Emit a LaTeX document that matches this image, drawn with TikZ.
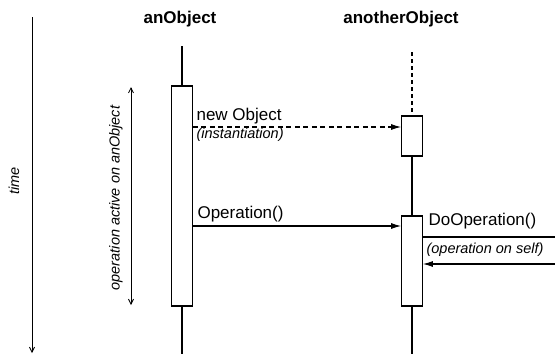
\documentclass[tikz,border=0pt]{standalone}
\usepackage{fontspec}
\setmainfont{Liberation Sans}
\usetikzlibrary{arrows.meta}
\begin{document}
\begin{tikzpicture}[x=1pt,y=-1pt,
  line width=1.1pt,
  act/.style={draw,fill=white,minimum width=20.5pt,inner sep=0pt,line width=1.3pt},
  title/.style={font=\bfseries\fontsize{17}{20}\selectfont,anchor=base,inner sep=0pt},
  msg/.style={font=\fontsize{17}{20}\selectfont,anchor=base west,inner sep=0pt},
  note/.style={font=\itshape\fontsize{14.5}{17}\selectfont,anchor=base west,inner sep=0pt},
  side/.style={rotate=90,font=\itshape\fontsize{14.5}{17}\selectfont,inner sep=0pt},
  tip/.style={-{Latex[length=10pt,width=6pt]}},
  barb/.tip={Straight Barb[length=5pt,width=5pt]}
]
\useasboundingbox (0,0) rectangle (555,357);
% time axis
\coordinate (t1) at (32,17);
\coordinate (t2) at (32,353);
\draw[-{barb},line width=0.8pt] (t1) -- (t2);
\node[side] (time) at (14,181) {time};
% active arrow
\coordinate (a1) at (131,305);
\coordinate (a2) at (131,87);
\draw[{barb}-{barb},line width=0.8pt] (a1) -- (a2);
\node[side] (actlbl) at (116,198) {operation active on anObject};
% titles
\node[title] (o1) at (180,23) {anObject};
\node[title] (o2) at (401,23) {anotherObject};
% anObject lifeline
\coordinate (l1top) at (182,46);
\coordinate (l1bot) at (182,354);
\draw (l1top) -- (l1bot);
\node[act,minimum height=220pt] (b1) at (182,196) {};
% anotherObject lifeline
\coordinate (l2top) at (412,52);
\coordinate (l2bot) at (412,354);
\node[act,minimum height=40pt] (b2) at (412,136) {};
\node[act,minimum height=90pt] (b3) at (412,261) {};
\draw[dash pattern=on 4pt off 3pt] (l2top) -- (b2.north);
\draw (b2.south) -- (b3.north);
\draw (b3.south) -- (l2bot);
% new Object
\draw[tip,dash pattern=on 5pt off 3.5pt] (b1.east |- 0,127) -- (b2.west |- 0,127);
\node[msg] (m1) at (196,120) {new Object};
\node[note] (m1n) at (196,138) {(instantiation)};
% Operation
\draw[tip] (b1.east |- 0,226) -- (b3.west |- 0,226);
\node[msg] (m2) at (197,218) {Operation()};
% DoOperation
\coordinate (s1) at (555,237);
\coordinate (s2) at (555,264);
\draw (b3.east |- s1) -- (s1);
\draw[tip] (s2) -- (b3.east |- s2);
\node[msg] (m3) at (428,225) {DoOperation()};
\node[note] (m3n) at (426,253) {(operation on self)};
\end{tikzpicture}
\end{document}
